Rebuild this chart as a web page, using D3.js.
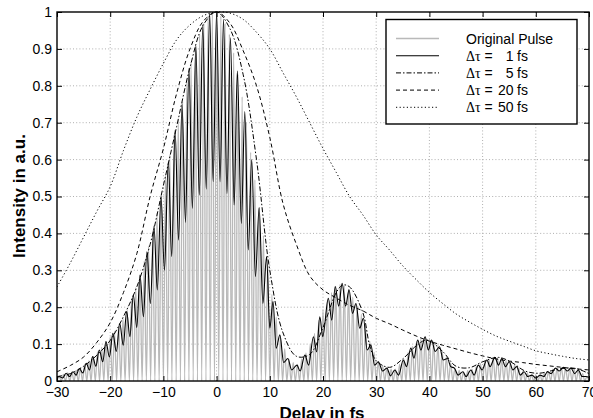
<!DOCTYPE html>
<html>
<head>
<meta charset="utf-8">
<script src="https://cdn.jsdelivr.net/npm/d3@7"></script>
<style>
  body { margin: 0; background: #fff; }
  svg { display: block; font-family: "Liberation Sans", Arial, sans-serif; }
</style>
</head>
<body>
<script>
let margin = {
    top: 12,
    right: 4,
    bottom: 37,
    left: 57
}

let width = 593
let height = 418

// ticks
const xTicks = [-30, -20, -10, 0, 10, 20, 30, 40, 50, 60, 70]
const yTicks = [0, 0.1, 0.2, 0.3, 0.4, 0.5, 0.6, 0.7, 0.8, 0.9, 1]

// original pulse: peaks of the fast oscillation (start, spacing in fs, heights)
const grayStart = -29.6
const grayStep = 0.8
const grayPeaks = [
    0.012, 0.018, 0.022, 0.024, 0.029, 0.036, 0.045, 0.055, 0.067, 0.079,
    0.091, 0.107, 0.12, 0.135, 0.152, 0.17, 0.192, 0.22, 0.253, 0.287,
    0.326, 0.366, 0.408, 0.455, 0.503, 0.558, 0.613, 0.667, 0.712, 0.757,
    0.817, 0.866, 0.905, 0.94, 0.97, 0.99, 0.998, 1.0, 0.99, 0.97,
    0.94, 0.89, 0.832, 0.77, 0.70, 0.62, 0.545, 0.47, 0.394, 0.317,
    0.235, 0.173, 0.121, 0.087, 0.059, 0.05, 0.045, 0.06, 0.076, 0.1,
    0.129, 0.165, 0.193, 0.218, 0.24, 0.257, 0.262, 0.259, 0.249, 0.227,
    0.204, 0.181, 0.15, 0.108, 0.078, 0.052, 0.043, 0.035, 0.032, 0.032,
    0.045, 0.059, 0.078, 0.094, 0.108, 0.115, 0.12, 0.114, 0.106, 0.097,
    0.082, 0.065, 0.049, 0.034, 0.029, 0.025, 0.028, 0.032, 0.039, 0.047,
    0.053, 0.059, 0.063, 0.063, 0.061, 0.056, 0.05, 0.043, 0.035, 0.027,
    0.021, 0.017, 0.016, 0.016, 0.021, 0.026, 0.032, 0.035, 0.037, 0.036,
    0.035, 0.033, 0.03, 0.02, 0.012
]

// delta tau = 1 fs  [delay, intensity]
const tau1 = [
    [-30, 0.008], [-29.6, 0.012], [-28.95, 0.008], [-28.3, 0.021], [-27.65, 0.012],
    [-27, 0.025], [-26.4, 0.016], [-25.8, 0.034], [-25.15, 0.022], [-24.5, 0.048],
    [-23.9, 0.03], [-23.3, 0.066], [-22.7, 0.04], [-22.05, 0.084], [-21.4, 0.052],
    [-20.8, 0.107], [-20.15, 0.065], [-19.5, 0.129], [-18.85, 0.08], [-18.2, 0.156],
    [-17.55, 0.097], [-16.9, 0.188], [-16.3, 0.12], [-15.66, 0.233], [-15.0, 0.145],
    [-14.4, 0.287], [-13.75, 0.174], [-13.1, 0.35], [-12.45, 0.21], [-11.77, 0.42],
    [-11.15, 0.247], [-10.45, 0.50], [-9.8, 0.30], [-9.08, 0.594], [-8.44, 0.337],
    [-7.8, 0.68], [-7.15, 0.382], [-6.5, 0.75], [-5.85, 0.43], [-5.2, 0.847],
    [-4.55, 0.468], [-3.9, 0.91], [-3.25, 0.504], [-2.6, 0.965], [-1.95, 0.52],
    [-1.3, 0.996], [-0.65, 0.54], [0, 1.0], [0.65, 0.54], [1.3, 0.98],
    [1.95, 0.508], [2.6, 0.93], [3.3, 0.477], [3.9, 0.84], [4.65, 0.427],
    [5.3, 0.73], [5.95, 0.355], [6.6, 0.60], [7.3, 0.283], [8.0, 0.47],
    [8.7, 0.21], [9.4, 0.337], [10.0, 0.143], [10.6, 0.215], [11.2, 0.089],
    [11.9, 0.125], [12.6, 0.05], [13.4, 0.061], [14.1, 0.03], [15.1, 0.043],
    [15.7, 0.027], [16.6, 0.07], [17.3, 0.043], [18.2, 0.12], [18.8, 0.079],
    [19.4, 0.174], [19.95, 0.12], [21.0, 0.224], [21.65, 0.165], [22.3, 0.256],
    [22.95, 0.203], [23.6, 0.265], [24.25, 0.203], [24.9, 0.247], [25.55, 0.183],
    [26.2, 0.21], [26.9, 0.143], [27.6, 0.17], [28.3, 0.084], [29.0, 0.098],
    [29.7, 0.043], [30.4, 0.052], [31.2, 0.027], [32.0, 0.035], [32.7, 0.014],
    [33.5, 0.03], [34.2, 0.016], [35.1, 0.057], [35.7, 0.039], [36.5, 0.089],
    [37.1, 0.062], [37.8, 0.111], [38.4, 0.084], [39.2, 0.12], [39.8, 0.084],
    [40.4, 0.111], [41.1, 0.08], [41.9, 0.093], [42.6, 0.057], [43.4, 0.061],
    [44.0, 0.039], [44.7, 0.035], [45.4, 0.016], [46.3, 0.025], [46.9, 0.012],
    [47.8, 0.03], [48.4, 0.016], [49.2, 0.043], [49.9, 0.03], [50.8, 0.057],
    [51.4, 0.039], [52.3, 0.064], [53.0, 0.043], [53.6, 0.061], [54.3, 0.039],
    [55.0, 0.052], [55.7, 0.03], [56.4, 0.039], [57.1, 0.016], [57.8, 0.025],
    [58.5, 0.012], [59.3, 0.016], [60.0, 0.008], [60.8, 0.016], [61.5, 0.012],
    [62.2, 0.025], [62.9, 0.02], [63.7, 0.035], [64.4, 0.027], [65.2, 0.037],
    [65.9, 0.027], [66.6, 0.035], [67.3, 0.02], [68.0, 0.03], [68.7, 0.012],
    [69.4, 0.012], [70, 0.01]
]

// delta tau = 5 fs
const tau5 = [
    [-30, 0.012], [-27.5, 0.02], [-25, 0.04], [-22.5, 0.07], [-20, 0.11],
    [-17.5, 0.175], [-15, 0.255], [-12.5, 0.37], [-10, 0.53], [-7.5, 0.69],
    [-5, 0.85], [-2.5, 0.965], [0, 1.0], [2.5, 0.955], [5, 0.83],
    [7.5, 0.6], [10, 0.30], [12.5, 0.13], [15, 0.067], [17.5, 0.072],
    [20, 0.145], [22.5, 0.24], [23.7, 0.26], [25, 0.255], [27.5, 0.185],
    [28.8, 0.095], [30, 0.055], [32.5, 0.037], [35, 0.06], [37.5, 0.095],
    [39.5, 0.111], [42.5, 0.08], [45, 0.04], [47.5, 0.036], [50, 0.052],
    [53, 0.064], [55.5, 0.05], [58, 0.027], [60.5, 0.021], [63, 0.028],
    [65, 0.034], [67.5, 0.034], [70, 0.02]
]

// delta tau = 20 fs
const tau20 = [
    [-30, 0.025], [-27.5, 0.042], [-25, 0.065], [-22.5, 0.105], [-20, 0.158],
    [-17.5, 0.24], [-15, 0.345], [-12.5, 0.5], [-10, 0.63], [-7.5, 0.78],
    [-5, 0.9], [-2.5, 0.975], [0, 1.0], [2.5, 0.97], [5, 0.895],
    [7.5, 0.8], [10, 0.66], [12.5, 0.48], [15, 0.37], [17.5, 0.285],
    [20, 0.247], [22.5, 0.225], [25, 0.205], [27.5, 0.19], [30, 0.17],
    [32.5, 0.155], [35, 0.138], [37.5, 0.122], [40, 0.108], [42.5, 0.097],
    [45, 0.087], [47.5, 0.077], [50, 0.068], [52.5, 0.06], [55, 0.054],
    [57.5, 0.05], [60, 0.045], [62.5, 0.041], [65, 0.037], [67.5, 0.033],
    [70, 0.03]
]

// delta tau = 50 fs
const tau50 = [
    [-30, 0.255], [-27.5, 0.32], [-25, 0.39], [-22.5, 0.46], [-20, 0.527],
    [-17.5, 0.625], [-15, 0.715], [-12.5, 0.79], [-10, 0.861], [-7.5, 0.925],
    [-5, 0.965], [-2.5, 0.99], [0, 1.0], [2.5, 0.997], [5, 0.98],
    [7.5, 0.945], [10, 0.9], [12.5, 0.835], [15, 0.77], [17.5, 0.70],
    [20, 0.63], [22.5, 0.565], [25, 0.50], [27.5, 0.45], [30, 0.396],
    [32.5, 0.355], [35, 0.312], [37.5, 0.275], [40, 0.24], [42.5, 0.21],
    [45, 0.182], [47.5, 0.16], [50, 0.14], [52.5, 0.122], [55, 0.108],
    [57.5, 0.095], [60, 0.082], [62.5, 0.074], [65, 0.067], [67.5, 0.061],
    [70, 0.057]
]

const legendLabels = ["Original Pulse", "1", "5", "20", "50"]

// scales
const x = d3.scaleLinear()
    .domain([-30, 70])
    .range([margin.left, width - margin.right])

const y = d3.scaleLinear()
    .domain([0, 1])
    .range([height - margin.bottom, margin.top])

const svg = d3.select("body").append("svg")
    .attr("width", width)
    .attr("height", height)
    .attr("viewBox", [0, 0, width, height])

const clip = svg.append("clipPath").attr("id", "plotclip")
    .append("rect")
    .attr("x", x(-30)).attr("y", y(1) - 1)
    .attr("width", x(70) - x(-30)).attr("height", y(0) - y(1) + 1)

// grid
const grid = svg.append("g")
    .attr("stroke", "#9a9a9a")
    .attr("stroke-width", 0.8)
    .attr("stroke-dasharray", "1,2.2")

grid.selectAll(".gx")
    .data(xTicks.slice(1, -1))
    .join("line")
    .attr("x1", d => x(d)).attr("x2", d => x(d))
    .attr("y1", y(0)).attr("y2", y(1))

grid.selectAll(".gy")
    .data(yTicks.slice(1, -1))
    .join("line")
    .attr("y1", d => y(d)).attr("y2", d => y(d))
    .attr("x1", x(-30)).attr("x2", x(70))

// original pulse path: zero - peak - zero ...
const grayPts = [[-30, 0]]
grayPeaks.forEach((h, i) => {
    const t = grayStart + i * grayStep
    grayPts.push([t, h])
    grayPts.push([t + grayStep / 2, 0])
})

const line = d3.line()
    .x(d => x(d[0]))
    .y(d => y(d[1]))

const curves = svg.append("g")
    .attr("clip-path", "url(#plotclip)")
    .attr("fill", "none")

curves.append("path")
    .attr("d", line.curve(d3.curveMonotoneX)(grayPts))
    .attr("stroke", "#b9b9b9")
    .attr("stroke-width", 1.3)

curves.append("path")
    .attr("d", line.curve(d3.curveMonotoneX)(tau1))
    .attr("stroke", "#000")
    .attr("stroke-width", 1.1)

curves.append("path")
    .attr("d", line.curve(d3.curveCatmullRom)(tau5))
    .attr("stroke", "#000")
    .attr("stroke-width", 1)
    .attr("stroke-dasharray", "5,2,1.5,2")

curves.append("path")
    .attr("d", line.curve(d3.curveCatmullRom)(tau20))
    .attr("stroke", "#000")
    .attr("stroke-width", 1)
    .attr("stroke-dasharray", "4,3")

curves.append("path")
    .attr("d", line.curve(d3.curveCatmullRom)(tau50))
    .attr("stroke", "#000")
    .attr("stroke-width", 1)
    .attr("stroke-dasharray", "1.2,2.4")

// axes
const xAxis = g => g
    .attr("transform", `translate(0,${y(0)})`)
    .call(d3.axisBottom(x).tickValues(xTicks).tickSize(-5).tickSizeOuter(0).tickPadding(6))
    .call(g => g.select(".domain").remove())

const yAxis = g => g
    .attr("transform", `translate(${x(-30)},0)`)
    .call(d3.axisLeft(y).tickValues(yTicks).tickSize(-5).tickSizeOuter(0).tickPadding(5)
        .tickFormat(d => d === 1 ? "1" : d === 0 ? "0" : d3.format(".1f")(d)))
    .call(g => g.select(".domain").remove())

const topAxis = g => g
    .attr("transform", `translate(0,${y(1)})`)
    .call(d3.axisTop(x).tickValues(xTicks).tickSize(-5).tickSizeOuter(0).tickFormat(""))
    .call(g => g.select(".domain").remove())

const rightAxis = g => g
    .attr("transform", `translate(${x(70)},0)`)
    .call(d3.axisRight(y).tickValues(yTicks).tickSize(-5).tickSizeOuter(0).tickFormat(""))
    .call(g => g.select(".domain").remove())

svg.append("g").call(xAxis)
svg.append("g").call(yAxis)
svg.append("g").call(topAxis)
svg.append("g").call(rightAxis)

svg.selectAll(".tick text")
    .attr("font-size", 14)
    .attr("font-family", "Liberation Sans, Arial, sans-serif")
    .attr("fill", "#000")
svg.selectAll(".tick line").attr("stroke", "#000")

svg.append("rect")
    .attr("x", x(-30)).attr("y", y(1))
    .attr("width", x(70) - x(-30)).attr("height", y(0) - y(1))
    .attr("fill", "none")
    .attr("stroke", "#000")
    .attr("stroke-width", 1.4)

// axis labels
svg.append("text")
    .attr("x", 322)
    .attr("y", 419)
    .attr("text-anchor", "middle")
    .attr("font-size", 17)
    .attr("font-weight", "bold")
    .text("Delay in fs")

svg.append("text")
    .attr("transform", "translate(25,196) rotate(-90)")
    .attr("text-anchor", "middle")
    .attr("font-size", 17)
    .attr("font-weight", "bold")
    .text("Intensity in a.u.")

// legend
const legend = svg.append("g")

legend.append("rect")
    .attr("x", 386).attr("y", 19.5)
    .attr("width", 191).attr("height", 104.5)
    .attr("fill", "#fff")
    .attr("stroke", "#000")
    .attr("stroke-width", 1.4)

const legendStyles = [
    { stroke: "#b9b9b9", dash: null, w: 1.3 },
    { stroke: "#000", dash: null, w: 1.1 },
    { stroke: "#000", dash: "5,2,1.5,2", w: 1 },
    { stroke: "#000", dash: "4,3", w: 1 },
    { stroke: "#000", dash: "1.2,2.4", w: 1 }
]

const rows = legend.selectAll(".row")
    .data(legendLabels)
    .join("g")
    .attr("transform", (d, i) => `translate(0,${38.5 + i * 17.2})`)

rows.append("line")
    .attr("x1", 396).attr("x2", 439)
    .attr("stroke", (d, i) => legendStyles[i].stroke)
    .attr("stroke-width", (d, i) => legendStyles[i].w)
    .attr("stroke-dasharray", (d, i) => legendStyles[i].dash)

rows.filter((d, i) => i === 0)
    .append("text")
    .attr("x", 466).attr("y", 5)
    .attr("font-size", 14)
    .text(d => d)

const tauRows = rows.filter((d, i) => i > 0)

tauRows.append("text")
    .attr("x", 466).attr("y", 5)
    .attr("font-size", 14)
    .call(t => t.append("tspan").attr("font-family", "Liberation Serif, serif").text("\u0394\u03c4"))
    .call(t => t.append("tspan").text(" ="))

tauRows.append("text")
    .attr("x", 513.5).attr("y", 5)
    .attr("text-anchor", "end")
    .attr("font-size", 14)
    .text(d => d)

tauRows.append("text")
    .attr("x", 517).attr("y", 5)
    .attr("font-size", 14)
    .text("fs")
</script>
</body>
</html>
